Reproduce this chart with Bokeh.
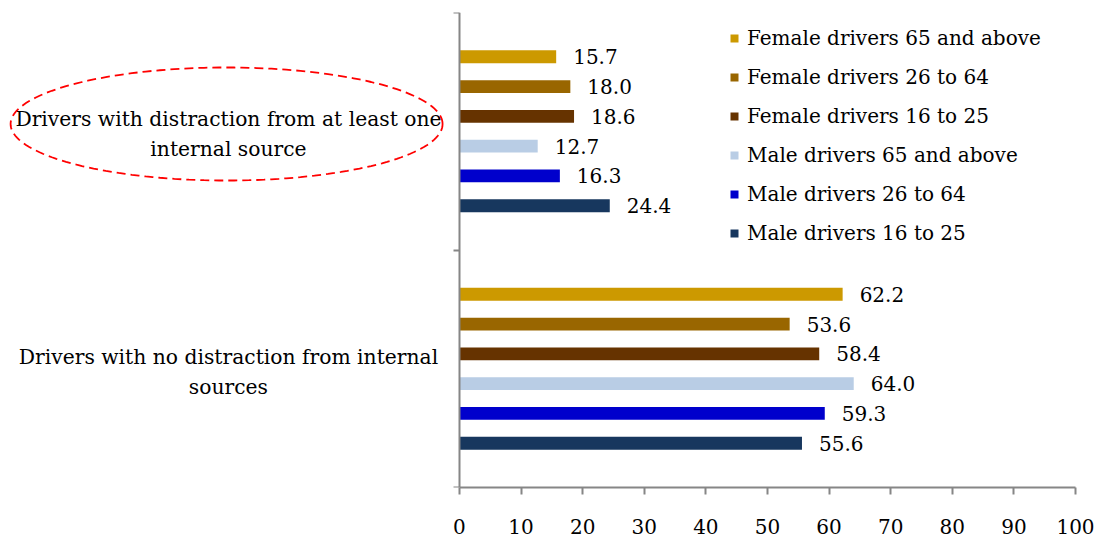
import numpy as np
from bokeh.plotting import figure
from bokeh.models import (Range1d, FixedTicker, LinearAxis, Legend, LegendItem,
                          ColumnDataSource, CustomJSTickFormatter)
from bokeh.core.properties import value
from bokeh.embed import file_html
from bokeh.resources import INLINE

# ---- data ----
categories = ["Drivers with no distraction from internal\nsources",
              "Drivers with distraction from at least one\ninternal source"]
series = ["Male drivers 16 to 25", "Male drivers 26 to 64", "Male drivers 65 and above",
          "Female drivers 16 to 25", "Female drivers 26 to 64", "Female drivers 65 and above"]
colors = ["#17375E", "#0000CC", "#B9CDE5", "#663300", "#996600", "#CC9900"]
no_distraction = [55.6, 59.3, 64.0, 58.4, 53.6, 62.2]
with_distraction = [24.4, 16.3, 12.7, 18.6, 18.0, 15.7]
x_ticks = [0, 10, 20, 30, 40, 50, 60, 70, 80, 90, 100]

FONT = "DejaVu Serif"
AXIS_COLOR = "#868686"

p = figure(width=1095, height=538, x_range=Range1d(-74.5, 100), y_range=Range1d(-0.5, 1.5),
           min_border_left=0, min_border_right=20, min_border_top=12, min_border_bottom=51,
           y_axis_location=None, toolbar_location=None, output_backend="svg")
p.outline_line_color = None
p.grid.visible = False
p.background_fill_color = "white"
p.border_fill_color = "white"

# x axis
xa = p.xaxis[0]
xa.bounds = (0, 100)
xa.ticker = FixedTicker(ticks=x_ticks)
xa.major_tick_out = 7
xa.major_tick_in = 0
xa.minor_tick_line_color = None
xa.axis_line_color = AXIS_COLOR
xa.axis_line_width = 2
xa.major_tick_line_color = AXIS_COLOR
xa.major_tick_line_width = 2
xa.major_label_text_font = FONT
xa.major_label_text_font_size = "20px"
xa.major_label_text_color = "black"
xa.major_label_standoff = 24

# y axis at x = 0 with ticks at category boundaries
ya = LinearAxis(fixed_location=0, ticker=FixedTicker(ticks=[-0.5, 0.5, 1.5]),
                formatter=CustomJSTickFormatter(code="return ''"))
ya.major_tick_in = 6
ya.major_tick_out = 0
ya.minor_tick_line_color = None
ya.axis_line_color = AXIS_COLOR
ya.axis_line_width = 2
ya.major_tick_line_color = AXIS_COLOR
ya.major_tick_line_width = 2
ya.major_label_standoff = 0
p.add_layout(ya, "right")

step = 0.1255
bar_h = 0.054
items = {}
for i, (name, col) in enumerate(zip(series, colors)):
    off = (i - 2.5) * step
    vals = [no_distraction[i], with_distraction[i]]
    src = ColumnDataSource(dict(y=[0 + off, 1 + off], x=vals,
                                lab=["%.1f" % v for v in vals]))
    r = p.hbar(y="y", right="x", left=0, height=bar_h, source=src,
               fill_color=col, line_color=None)
    p.text(x="x", y="y", text="lab", source=src, x_offset=17,
           text_baseline="middle", text_align="left",
           text_font=value(FONT), text_font_size="20px", text_color="black")
    items[name] = r

# category labels
csrc = ColumnDataSource(dict(y=[0, 1], t=categories))
p.text(x=0, y="y", text="t", source=csrc, x_offset=-231, y_offset=3,
       text_align="center", text_baseline="middle", text_line_height=1.25,
       text_font=value(FONT), text_font_size="20.3px", text_color="black")

# highlight ellipse (dashed red) around the first category label
t = np.linspace(0, 2 * np.pi, 181)
ex = -37.8 + 35.06 * np.cos(t)
ey = 1.0305 + 0.238 * np.sin(t)
p.line(x=ex, y=ey, line_color="#FF0000", line_width=1.8, line_dash="9 5")

legend_order = ["Female drivers 65 and above", "Female drivers 26 to 64",
                "Female drivers 16 to 25", "Male drivers 65 and above",
                "Male drivers 26 to 64", "Male drivers 16 to 25"]
legend = Legend(items=[LegendItem(label=n, renderers=[items[n]]) for n in legend_order],
                location=(729, 242), orientation="vertical",
                glyph_width=10, glyph_height=10, label_standoff=8,
                label_height=20, spacing=15, padding=0, margin=0,
                border_line_color=None, background_fill_alpha=0,
                label_text_font=FONT, label_text_font_size="20px",
                label_text_color="black")
p.add_layout(legend)

open("out.html", "w").write(file_html(p, INLINE))
